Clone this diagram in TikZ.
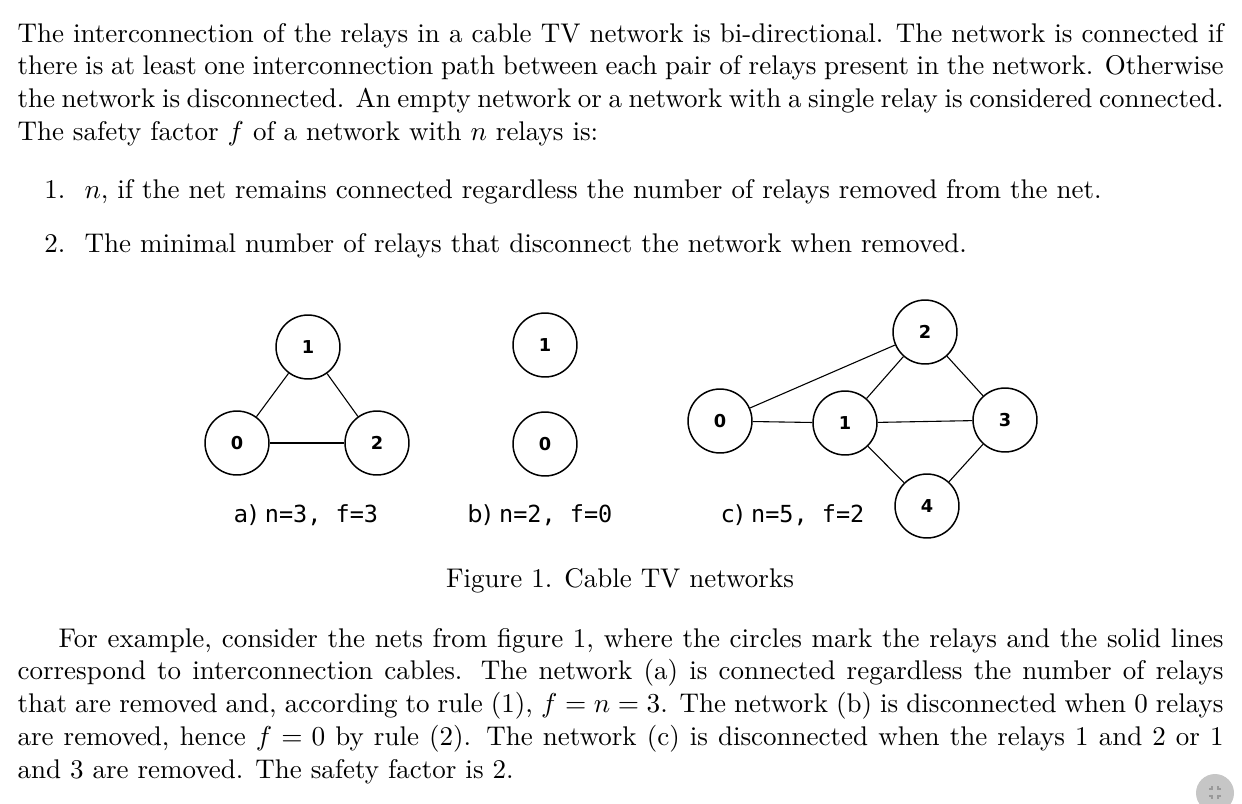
\documentclass[tikz,border=0pt]{standalone}
\usepackage{fontspec}
\newfontfamily\relayfont{DejaVu Sans}
\newfontfamily\tagmono{DejaVu Sans Mono}
\usetikzlibrary{positioning}

\tikzset{
  relay/.style={circle, draw, line width=0.55pt, minimum size=23.4pt, inner sep=0pt,
    font=\relayfont\bfseries\fontsize{6.5}{7}\selectfont},
  cable/.style={line width=0.4pt},
  nettag/.style={anchor=base, inner sep=0pt, font=\relayfont\fontsize{8.6}{10}\selectfont},
  para/.style={anchor=base west, inner sep=0pt, text width=441.4pt, align=justify,
    execute at begin node={\spaceskip=0.333em plus 0.2em minus 0.14em}},
  line/.style={anchor=base west, inner sep=0pt},
}

\begin{document}
\begin{tikzpicture}[x=0.366pt, y=-0.366pt, font=\fontsize{9.88}{12}\selectfont]
            \useasboundingbox (0,0) rectangle (1242,803);

            \node[para] (intro) at (17,42) {The interconnection of the relays in a cable TV network is bi-directional. The network is connected if\linebreak there is at least one interconnection path between each pair of relays present in the network. Otherwise\linebreak the network is disconnected. An empty network or a network with a single relay is considered \mbox{connected.}\linebreak The safety factor $f$ of a network with $n$ relays is:};

            \node[anchor=base east, inner sep=0pt] (num1) at (66,198) {1.};
            \node[line] (rule1) at (84,198) {$n$, if the net remains connected regardless the number of relays removed from the net.};
            \node[anchor=base east, inner sep=0pt] (num2) at (66,252) {2.};
            \node[line] (rule2) at (84,252) {The minimal number of relays that disconnect the network when removed.};

            \node[relay] (a1) at (308,347) {1};
            \node[relay] (a0) at (237,443) {0};
            \node[relay] (a2) at (377,443) {2};
            \draw[cable] (a0) -- (a1);
            \draw[cable] (a1) -- (a2);
            \draw[cable] (a0) -- (a2);
            \node[nettag] (taga) at (306,522) {a) {\tagmono n=3, f=3}};

            \node[relay] (b1) at (545,345) {1};
            \node[relay] (b0) at (545,444) {0};
            \node[nettag] (tagb) at (540,522) {b) {\tagmono n=2, f=0}};

            \node[relay] (c0) at (720,421) {0};
            \node[relay] (c1) at (845,423) {1};
            \node[relay] (c2) at (925,332) {2};
            \node[relay] (c3) at (1005,420) {3};
            \node[relay] (c4) at (927,506) {4};
            \draw[cable] (c0) -- (c2);
            \draw[cable] (c0) -- (c1);
            \draw[cable] (c1) -- (c2);
            \draw[cable] (c1) -- (c3);
            \draw[cable] (c2) -- (c3);
            \draw[cable] (c1) -- (c4);
            \draw[cable] (c3) -- (c4);
            \node[nettag] (tagc) at (793,522) {c) {\tagmono n=5, f=2}};

            \node[anchor=base, inner sep=0pt] (caption) at (620,587) {Figure 1. Cable TV networks};

            \node[para] (example) at (17,647) {\hspace*{15pt}For example, consider the nets from figure 1, where the circles mark the relays and the solid lines\linebreak correspond to interconnection cables. The network (a) is connected regardless the number of relays\linebreak that are removed and, according to rule (1), $f=n=3$. The network (b) is disconnected when 0 relays\linebreak are removed, hence $f=0$ by rule (2). The network (c) is disconnected when the relays 1 and 2 or 1\linebreak and 3 are removed. The safety factor is 2.};

            \fill[gray!45] (1215,793) circle (19);
            \draw[gray!80, line width=0.5pt] (1209,789) -- (1212,789) -- (1212,786);
            \draw[gray!80, line width=0.5pt] (1221,789) -- (1218,789) -- (1218,786);
            \draw[gray!80, line width=0.5pt] (1209,796) -- (1212,796) -- (1212,799);
            \draw[gray!80, line width=0.5pt] (1221,796) -- (1218,796) -- (1218,799);
        \end{tikzpicture}
\end{document}
